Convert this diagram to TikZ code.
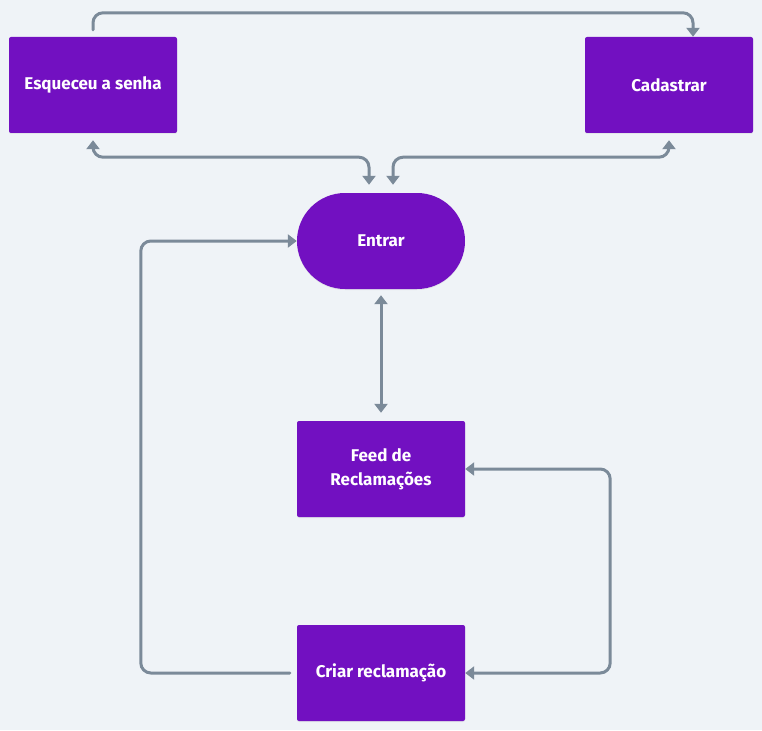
\documentclass[tikz,border=0pt]{standalone}
\usepackage{fontspec}
\setmainfont{Fira Sans}
\usetikzlibrary{arrows.meta,calc,shadows}
\definecolor{bgc}{HTML}{EFF3F7}
\definecolor{boxc}{HTML}{7210C1}
\definecolor{linec}{HTML}{7B8A99}
\begin{document}
\begin{tikzpicture}[x=1pt,y=-1pt,
  boxnode/.style={fill=boxc, minimum width=168pt, minimum height=96pt, inner sep=0pt,
    rounded corners=2pt, text=white, font=\fontsize{17}{24}\selectfont\bfseries, align=center,
    drop shadow={opacity=0.12, shadow xshift=0pt, shadow yshift=-1pt}},
  pillnode/.style={boxnode, rounded corners=48pt},
  conn/.style={draw=linec, line width=3pt, rounded corners=10pt, line cap=round,
    >={Triangle[width=13pt,length=9pt]}}
]
\path[fill=bgc] (0,0) rectangle (762,730);
\node[boxnode] (esq) at (93,85) {Esqueceu a senha};
\node[boxnode] (cad) at (669,85) {Cadastrar};
\node[pillnode] (entrar) at (381,241) {Entrar};
\node[boxnode] (feed) at (381,469) {Feed de\\Reclamações};
\node[boxnode] (criar) at (381,673) {Criar reclamação};

\draw[conn,->] ([yshift=7pt]esq.north) -- ++(0,-17) -| ([xshift=24pt]cad.north);
\draw[conn,<->] ([yshift=-7pt]esq.south) -- ++(0,17) -| ([xshift=-12pt,yshift=8pt]entrar.north);
\draw[conn,<->] ([yshift=-7pt]cad.south) -- ++(0,17) -| ([xshift=12pt,yshift=8pt]entrar.north);
\draw[conn,<->] ([yshift=-6pt]entrar.south) -- ([yshift=8pt]feed.north);
\draw[conn,<->] (feed.east) -- ++(145,0) |- (criar.east);
\draw[conn,->] ([xshift=-7pt]criar.west) -- ++(-149,0) |- (entrar.west);
\end{tikzpicture}
\end{document}
